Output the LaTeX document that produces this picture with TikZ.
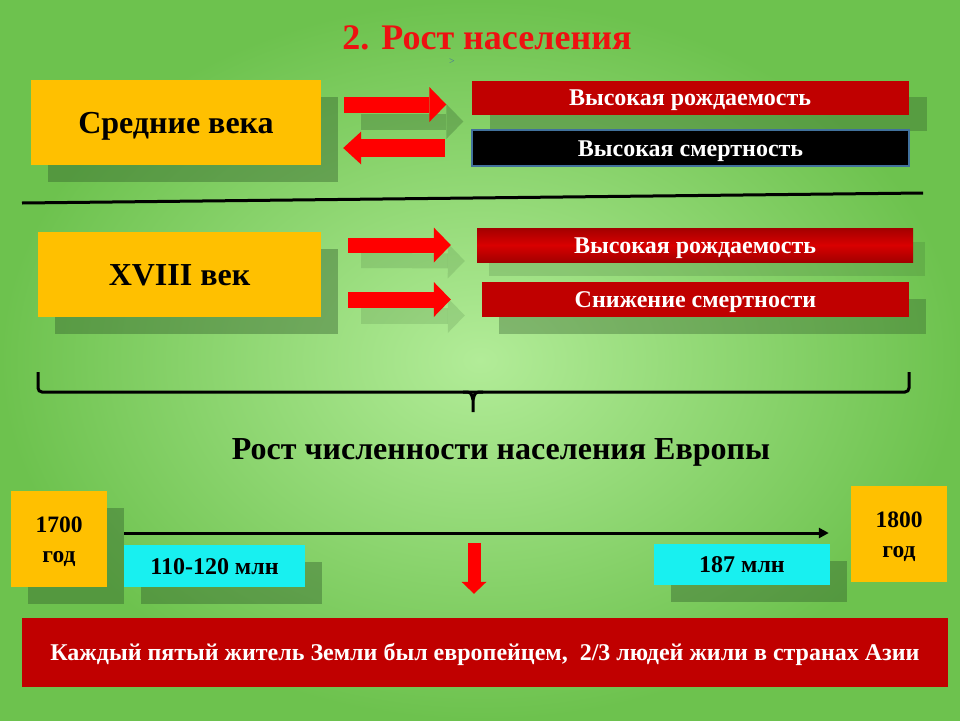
\documentclass[tikz,border=0pt]{standalone}
\usepackage{fontspec}
\setmainfont{Liberation Serif}[BoldFont={Liberation Serif Bold}]
\usetikzlibrary{arrows.meta,shadows,calc}

\definecolor{boxorange}{HTML}{FFC000}
\definecolor{boxred}{HTML}{C00000}
\definecolor{arrowred}{HTML}{FF0000}
\definecolor{titlered}{HTML}{EE1111}
\definecolor{boxcyan}{HTML}{18F0F0}
\definecolor{edgeblue}{HTML}{41719C}
\definecolor{shadegreen}{HTML}{2F5A2A}
\definecolor{bglight}{HTML}{B2EC98}
\definecolor{bgdark}{HTML}{6DC24E}

\tikzset{
  panel/.style={inner sep=0pt, text depth=0pt},
  shade box/.style={drop shadow={shadow xshift=17pt, shadow yshift=-17pt,
      fill=shadegreen, opacity=0.4}},
  era/.style={panel, fill=boxorange, minimum height=85pt, text height=21pt,
      font=\bfseries\fontsize{32}{35}\selectfont, shade box},
  factbar/.style={panel, fill=boxred, text=white, text height=16pt,
      font=\bfseries\fontsize{24}{27}\selectfont},
  yearbox/.style={inner sep=0pt, align=center, fill=boxorange, minimum width=96pt,
      minimum height=96pt, font=\bfseries\fontsize{23.5}{30}\selectfont},
  countbox/.style={panel, fill=boxcyan, minimum height=42pt, text height=16pt,
      font=\bfseries\fontsize{24}{27}\selectfont, shade box},
  fat/.style={draw=arrowred, line width=16pt,
      -{Triangle[length=17pt, width=35pt, line width=0pt]}},
  fat shadow/.style={fat, draw=shadegreen, opacity=0.3},
  bar/.style={line width=3pt},
}

\begin{document}
\begin{tikzpicture}[x=1pt, y=-1pt]
\useasboundingbox (0,0) rectangle (960,720);
\shade[inner color=bglight, outer color=bgdark] (0,0) rectangle (960,720);

% heading
\node[inner sep=0pt, text=titlered, font=\bfseries\fontsize{36}{40}\selectfont] (title) at (487,38) {2. Рост населения};
\node[inner sep=0pt, text=edgeblue, font=\fontsize{10}{12}\selectfont] (mark) at (452,62) {>};

% middle ages
\node[era, minimum width=290pt] (sv) at (176,122.5) {Средние века};
\node[factbar, minimum width=437pt, minimum height=34pt,
  drop shadow={shadow xshift=18pt, shadow yshift=-16pt, fill=shadegreen, opacity=0.35}]
  (r1) at (690,97.5) {Высокая рождаемость};
\node[factbar, fill=black, draw=edgeblue, line width=2pt, minimum width=437pt,
  minimum height=36pt] (k1) at (690.5,148) {Высокая смертность};

\draw[fat shadow] ($(sv.east)+(40,-1)$) -- ($(r1.west)+(-8,24)$);
\draw[fat] ($(sv.east)+(23,-18)$) -- ($(r1.west)+(-25,7)$);
\draw[fat, line width=18pt, -{Triangle[length=18pt, width=33pt, line width=0pt]}]
  ($(k1.west)+(-26,0)$) -- ($(sv.east)+(22,25.5)$);

\draw[bar] (22,203) -- (923,193);

% XVIII century
\node[era, minimum width=283pt] (xviii) at (179.5,274.5) {XVIII век};
\node[factbar, minimum width=436pt, minimum height=34pt,
  top color=boxred!85!black, bottom color=boxred!85!black, middle color=red!85!black,
  drop shadow={shadow xshift=12pt, shadow yshift=-14pt, fill=shadegreen, opacity=0.18}]
  (r2) at (695,245) {Высокая рождаемость};
\node[factbar, minimum width=427pt, minimum height=35pt,
  drop shadow={shadow xshift=17pt, shadow yshift=-17pt, fill=shadegreen, opacity=0.35}]
  (r3) at (695.5,299.5) {Снижение смертности};

\draw[fat shadow, opacity=0.15, line width=15pt] ($(xviii.east)+(40,-14)$) -- ($(r2.west)+(-12,16)$);
\draw[fat shadow, opacity=0.15] ($(xviii.east)+(40,41)$) -- ($(r3.west)+(-17,16)$);
\draw[fat, line width=15pt] ($(xviii.east)+(27,-29.5)$) -- ($(r2.west)+(-26,0)$);
\draw[fat] ($(xviii.east)+(27,25)$) -- ($(r3.west)+(-31,0)$);

% brace over both
\draw[bar, rounded corners=4pt] (38,372) -- (38,392) -- (909,392) -- (909,372);
\draw[bar] (463,392) .. controls (471,392) .. (473,400) -- (473,412);
\draw[bar] (483,392) .. controls (475,392) .. (473,400);

\node[inner sep=0pt, font=\bfseries\fontsize{32}{35}\selectfont] (europe) at (501,452) {Рост численности населения Европы};

% timeline
\node[yearbox, shade box] (y1700) at (59,539) {\rule{0pt}{22pt}1700\\год};
\node[yearbox] (y1800) at (899,534) {\rule{0pt}{22pt}1800\\год};
\node[countbox, minimum width=181pt] (m1) at (214.5,566) {110-120 млн};
\node[countbox, minimum width=176pt, minimum height=41pt] (m2) at (742,564.5) {187 млн};
\draw[bar, -{Triangle[length=10pt, width=10pt]}] ($(y1700.east)+(17,-6)$) -- ($(y1800.west)+(-22,-1)$);

\node[factbar, minimum width=926pt, minimum height=69pt] (fact) at (485,652.5)
  {Каждый пятый житель Земли был европейцем,\ \ 2/3 людей жили в странах Азии};
\draw[fat, line width=13pt, -{Triangle[length=12pt, width=25pt, line width=0pt]}]
  ($(fact.north)+(-11,-75)$) -- ($(fact.north)+(-11,-24)$);
\end{tikzpicture}
\end{document}
